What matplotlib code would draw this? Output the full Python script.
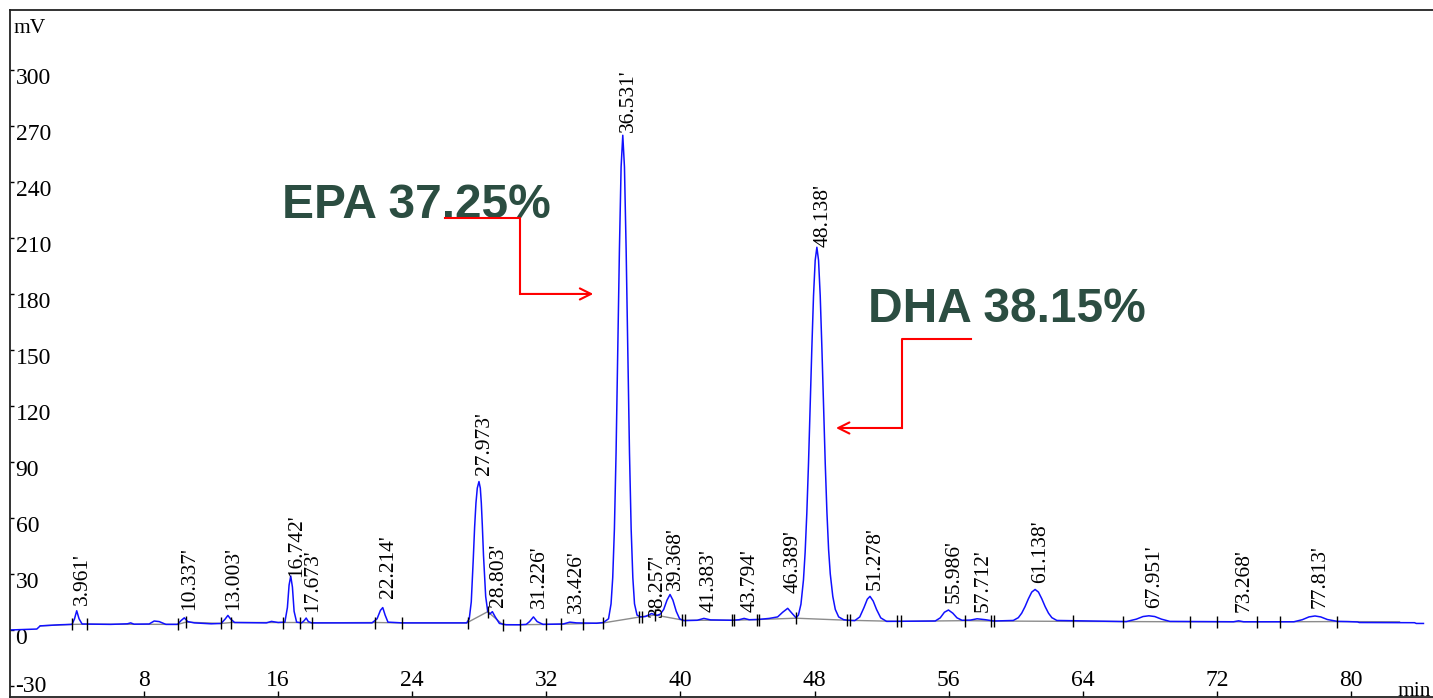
"""Gas chromatogram of a fish-oil sample with EPA / DHA peaks annotated."""

import matplotlib.pyplot as plt
from matplotlib.transforms import ScaledTranslation

# =============================================================================
# Data (time in min, signal in mV)
# =============================================================================

trace_time = [
    0.0, 1.6, 1.8, 3.0, 3.7, 3.85, 3.98, 4.12, 4.3, 6.0,
    7.0, 7.2, 7.4, 8.3, 8.6, 8.9, 9.3, 10.0, 10.2, 10.4,
    10.6, 11.0, 12.0, 12.6, 12.85, 13.0, 13.15, 13.4, 15.3, 15.6,
    16.0, 16.4, 16.55, 16.65, 16.75, 16.85, 16.95, 17.1, 17.4, 17.55,
    17.67, 17.8, 18.0, 21.6, 21.9, 22.1, 22.24, 22.38, 22.55, 23.4,
    27.25, 27.4, 27.52, 27.64, 27.72, 27.8, 27.88, 27.98, 28.06, 28.12,
    28.18, 28.25, 28.38, 28.5, 28.62, 28.78, 28.95, 29.2, 29.6, 30.4,
    30.8, 31.0, 31.23, 31.45, 31.8, 33.0, 33.4, 33.8, 35.0, 35.4,
    35.71, 35.86, 35.96, 36.06, 36.16, 36.26, 36.36, 36.46, 36.56, 36.66,
    36.76, 36.86, 36.96, 37.06, 37.16, 37.26, 37.41, 37.6, 37.9, 38.28,
    38.6, 38.8, 39.0, 39.2, 39.38, 39.55, 39.75, 39.95, 40.2, 41.0,
    41.4, 41.8, 43.1, 43.5, 43.8, 44.1, 44.6, 45.3, 45.8, 46.1,
    46.4, 46.65, 46.9, 47.04, 47.19, 47.34, 47.44, 47.54, 47.64, 47.74,
    47.84, 47.94, 48.04, 48.14, 48.24, 48.34, 48.44, 48.54, 48.64, 48.74,
    48.84, 48.94, 49.09, 49.24, 49.44, 49.74, 50.0, 50.4, 50.7, 50.95,
    51.15, 51.31, 51.5, 51.7, 51.95, 52.3, 55.2, 55.5, 55.75, 55.99,
    56.25, 56.5, 56.8, 57.3, 57.7, 58.2, 58.7, 59.86, 60.16, 60.36,
    60.56, 60.76, 60.96, 61.16, 61.36, 61.56, 61.76, 61.96, 62.16, 62.46,
    66.6, 67.2, 67.6, 67.95, 68.3, 68.7, 69.2, 73.0, 73.3, 73.6,
    76.6, 77.1, 77.5, 77.86, 78.2, 78.6, 79.2, 79.8, 80.4, 80.5,
    83.8, 83.9, 84.33,
]
trace_mv = [
    0.0, 0.5, 2.2, 2.8, 3.0, 6.0, 10.3, 6.0, 3.2, 3.0,
    3.3, 3.8, 3.1, 3.2, 4.8, 4.5, 3.0, 3.0, 5.0, 6.5,
    4.5, 3.8, 3.3, 3.5, 6.0, 7.8, 6.0, 4.0, 3.8, 4.6,
    4.0, 4.2, 12.0, 24.0, 28.9, 23.0, 10.0, 4.2, 3.8, 5.0,
    6.4, 4.5, 3.8, 3.8, 6.0, 10.5, 12.0, 8.0, 4.2, 3.8,
    3.8, 6.0, 15.0, 38.0, 55.0, 68.0, 76.0, 79.5, 76.0, 68.0,
    56.0, 40.0, 18.0, 10.0, 8.5, 9.8, 7.0, 3.5, 2.8, 2.8,
    3.0, 4.5, 7.0, 4.5, 3.0, 3.2, 4.2, 3.8, 3.6, 4.0,
    6.0, 14.0, 28.0, 54.0, 95.0, 148.0, 204.0, 248.0, 265.0, 248.0,
    204.0, 148.0, 95.0, 54.0, 28.0, 14.0, 8.0, 7.0, 7.2, 8.8,
    7.8, 8.5, 11.0, 16.0, 19.0, 16.0, 10.0, 6.0, 5.0, 5.2,
    6.2, 5.4, 5.2, 5.5, 6.2, 5.5, 5.6, 6.2, 7.0, 9.5,
    11.6, 9.0, 6.5, 8.0, 13.8, 26.8, 41.6, 62.5, 89.0, 120.0,
    151.0, 179.0, 198.0, 205.0, 198.0, 179.0, 151.0, 120.0, 89.0, 63.0,
    43.0, 30.0, 18.0, 11.0, 7.0, 5.5, 5.2, 5.0, 7.0, 12.0,
    16.5, 18.0, 15.5, 11.0, 6.5, 4.6, 4.8, 6.5, 9.5, 10.7,
    9.0, 6.5, 5.2, 5.3, 6.0, 5.5, 4.8, 5.1, 6.6, 9.0,
    12.5, 16.7, 20.3, 21.7, 20.3, 16.7, 12.5, 9.0, 6.6, 5.1,
    4.5, 5.8, 7.2, 7.6, 7.2, 5.8, 4.6, 4.4, 4.9, 4.4,
    4.4, 5.5, 7.0, 7.5, 7.0, 5.6, 4.6, 4.5, 4.3, 4.0,
    3.9, 3.5, 3.5,
]

# integration baseline drawn in grey
baseline_time = [
    1.8, 3.7, 4.6, 10.0, 10.5, 12.6, 13.2, 16.3, 17.3, 18.0,
    21.8, 23.4, 27.25, 28.5, 29.4, 30.4, 32.0, 32.9, 34.2, 35.4,
    37.6, 38.5, 40.2, 43.1, 44.6, 46.9, 50.0, 53.0, 57.0, 58.6,
    63.4, 66.4, 70.4, 72.0, 74.4, 75.8, 79.2, 82.9,
]
baseline_mv = [
    2.2, 3.0, 3.1, 3.0, 4.2, 3.5, 4.0, 4.0, 4.0, 3.8,
    4.0, 3.8, 3.8, 9.8, 2.9, 2.8, 3.0, 3.1, 3.4, 3.8,
    7.0, 8.0, 5.2, 5.2, 5.6, 6.3, 5.2, 4.6, 5.0, 4.8,
    4.6, 4.5, 4.4, 4.4, 4.4, 4.4, 4.5, 4.4,
]

# peak start / end markers
bound_time = [
    3.7, 4.6, 10.0, 10.5, 12.6, 13.2, 16.3, 17.3, 18.0, 21.8,
    23.4, 27.3, 28.5, 29.4, 30.4, 32.0, 32.9, 34.2, 35.4, 37.5,
    37.7, 38.5, 40.1, 40.25, 43.05, 43.2, 44.55, 44.7, 46.9, 49.95,
    50.1, 52.95, 53.15, 57.0, 58.55, 58.7, 63.4, 66.4, 70.4, 72.0,
    74.4, 75.8, 79.2,
]
bound_mv = [
    3.0, 3.1, 3.0, 4.2, 3.5, 4.0, 4.0, 4.0, 3.8, 4.0,
    3.8, 3.8, 9.8, 2.9, 2.8, 3.0, 3.1, 3.4, 3.8, 7.0,
    7.1, 8.0, 5.3, 5.2, 5.2, 5.2, 5.6, 5.6, 6.3, 5.2,
    5.2, 4.6, 4.6, 5.0, 4.8, 4.8, 4.6, 4.5, 4.4, 4.4,
    4.4, 4.4, 4.5,
]

# retention-time labels and the height (mV) where each label starts
peak_rt = [
    3.961, 10.337, 13.003, 16.742, 17.673, 22.214, 27.973, 28.803,
    31.226, 33.426, 36.531, 38.257, 39.368, 41.383, 43.794, 46.389,
    48.138, 51.278, 55.986, 57.712, 61.138, 67.951, 73.268, 77.813,
]
label_mv = [
    13.4, 10.7, 10.7, 28.4, 9.6, 17.0, 83.0, 12.5,
    11.6, 8.9, 267.0, 7.1, 21.4, 9.8, 9.8, 19.6,
    205.3, 21.4, 14.3, 9.8, 25.0, 11.6, 9.8, 11.6,
]

x_ticks = [8, 16, 24, 32, 40, 48, 56, 64, 72, 80]
y_ticks = [-30, 0, 30, 60, 90, 120, 150, 180, 210, 240, 270, 300]

epa_text = "EPA 37.25%"
dha_text = "DHA 38.15%"
epa_arrow_t = [25.95, 30.43, 30.43, 34.8]
epa_arrow_mv = [220.7, 220.7, 180.0, 180.0]
dha_arrow_t = [57.34, 53.22, 53.22, 49.28]
dha_arrow_mv = [155.9, 155.9, 108.2, 108.2]

TEXT_GREEN = "#2b4d41"
ARROW_RED = "#ff0000"


def main() -> None:
    plt.rcParams["font.family"] = ["Liberation Serif", "DejaVu Serif"]
    plt.rcParams["axes.unicode_minus"] = False

    fig = plt.figure(figsize=(14.33, 6.98), dpi=100)
    ax = fig.add_axes([10 / 1433, 1 / 698, 1423 / 1433, 687 / 698])

    ax.plot(baseline_time, baseline_mv, color="#8c8c8c", lw=1.0, zorder=1)
    ax.plot(trace_time, trace_mv, color="#1010ff", lw=1.1, zorder=2)
    ax.plot(bound_time, bound_mv, ls="none", marker="|", ms=8,
            mew=1.0, color="black", zorder=3)

    for rt, y in zip(peak_rt, label_mv):
        ax.annotate(f"{rt:.3f}'", xy=(rt, y), xytext=(4.3, 0),
                    textcoords="offset points", rotation=90,
                    ha="center", va="bottom", fontsize=15.5)

    # EPA / DHA callouts
    for text, t0, y0 in ((epa_text, 16.23, 220.7), (dha_text, 51.19, 165.0)):
        ax.text(t0, y0, text, family=["Liberation Sans", "DejaVu Sans"],
                fontweight="bold", fontsize=34.5, color=TEXT_GREEN,
                ha="left", va="baseline", zorder=4)
    for ts, ys in ((epa_arrow_t, epa_arrow_mv), (dha_arrow_t, dha_arrow_mv)):
        ax.plot(ts[:3], ys[:3], color=ARROW_RED, lw=1.5, zorder=4)
        ax.annotate("", xy=(ts[3], ys[3]), xytext=(ts[2], ys[2]),
                    arrowprops=dict(arrowstyle="->", color=ARROW_RED, lw=1.5,
                                    mutation_scale=20, shrinkA=0, shrinkB=0),
                    zorder=4)

    ax.set_xlim(0, 84.9)
    ax.set_ylim(-35.9, 332.1)
    ax.set_xticks(x_ticks)
    ax.set_yticks(y_ticks)

    ax.spines["right"].set_visible(False)
    for side in ("left", "top", "bottom"):
        ax.spines[side].set_linewidth(1.3)
        ax.spines[side].set_color("#222222")

    ax.tick_params(axis="x", direction="in", length=4, width=1, pad=-4.3,
                   labelsize=17)
    ax.tick_params(axis="y", direction="in", length=3, width=1, pad=-4,
                   labelsize=17)
    for lab in ax.get_xticklabels():
        lab.set_verticalalignment("bottom")
    for i, tick in enumerate(ax.yaxis.get_major_ticks()):
        lab = tick.label1
        lab.set_horizontalalignment("left")
        lab.set_verticalalignment("top")
        # nudge up; the lowest label a bit more so it stays inside the frame
        shift = 10 if i == 0 else 2
        lab.set_transform(lab.get_transform()
                          + ScaledTranslation(0, shift / 100, fig.dpi_scale_trans))

    ax.text(3 / 1423, 0.9665, "mV", transform=ax.transAxes, fontsize=15.5,
            ha="left", va="baseline")
    ax.text(0.9985, 0.002, "min", transform=ax.transAxes, fontsize=15.5,
            ha="right", va="baseline")

    fig.savefig("out.png", dpi=100)
    plt.close(fig)


if __name__ == "__main__":
    main()
